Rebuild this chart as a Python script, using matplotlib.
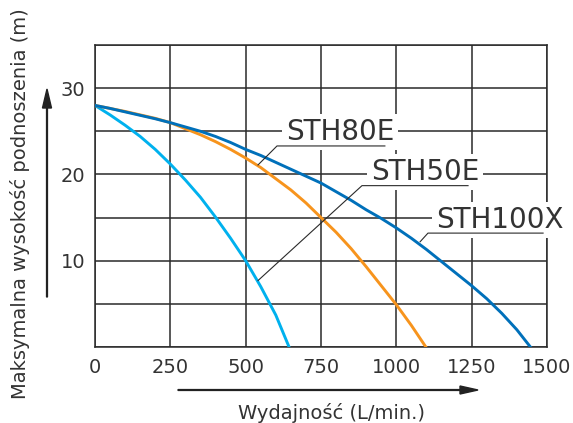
import numpy as np
import matplotlib
matplotlib.use("Agg")
import matplotlib.pyplot as plt

# wydajnosc (L/min) i wysokosc podnoszenia (m)
sth50e_q = [0, 50, 100, 150, 200, 250, 300, 350, 400, 450, 500, 550, 600, 644]
sth50e_h = [28.0, 26.9, 25.7, 24.4, 22.9, 21.2, 19.35, 17.35, 15.05, 12.6, 10.0, 7.0,
            3.7, 0.0]

sth80e_q = [0, 50, 100, 150, 200, 250, 300, 350, 400, 450, 500, 550, 600, 650, 700,
            750, 800, 850, 900, 950, 1000, 1050, 1098]
sth80e_h = [28.0, 27.65, 27.3, 26.9, 26.5, 26.0, 25.3, 24.6, 23.8, 22.9, 21.9, 20.8,
            19.5, 18.2, 16.7, 15.0, 13.3, 11.4, 9.3, 7.1, 4.9, 2.5, 0.0]

sth100x_q = [0, 50, 100, 150, 200, 250, 300, 350, 400, 450, 500, 550, 600, 650, 700,
             750, 800, 850, 900, 950, 1000, 1050, 1100, 1150, 1200, 1250, 1300, 1350,
             1400, 1445]
sth100x_h = [28.0, 27.65, 27.25, 26.85, 26.45, 26.0, 25.5, 25.0, 24.4, 23.7, 22.9, 22.2,
             21.4, 20.6, 19.8, 19.0, 18.0, 17.0, 15.9, 14.9, 13.8, 12.6, 11.3, 9.9,
             8.5, 7.1, 5.6, 3.9, 2.0, 0.0]

x_ticks = [0, 250, 500, 750, 1000, 1250, 1500]
y_ticks = [0, 5, 10, 15, 20, 25, 30, 35]
y_labels = ["", "", "10", "", "20", "", "30", ""]

# etykiety: tekst, srodek tekstu, punkt na krzywej, zalamanie, koniec podkreslenia
labels = [
    ("STH80E", (813, 24.9), (541, 21.1), (604, 23.3), (962, 23.3)),
    ("STH50E", (1095, 20.3), (541, 7.7), (886, 18.7), (1238, 18.7)),
    ("STH100X", (1344, 14.7), (1079, 12.2), (1105, 13.2), (1487, 13.2)),
]

txt = "#333333"
plt.rcParams["font.family"] = ["DejaVu Sans"]

fig = plt.figure(figsize=(5.73, 4.23), dpi=100)
ax = fig.add_axes([95 / 573, 1 - 347 / 423, 452 / 573, 302 / 423])

ax.plot(sth50e_q, sth50e_h, color="#00B1EE", lw=2.1, zorder=4, solid_joinstyle="round")
ax.plot(sth80e_q, sth80e_h, color="#F7941D", lw=2.1, zorder=4, solid_joinstyle="round")
ax.plot(sth100x_q, sth100x_h, color="#0070BA", lw=2.1, zorder=4, solid_joinstyle="round")

ax.set_xlim(0, 1500)
ax.set_ylim(0, 35)
ax.set_xticks(x_ticks)
ax.set_yticks(y_ticks)
ax.set_yticklabels(y_labels)
ax.tick_params(length=0, labelsize=14, labelcolor=txt)
ax.tick_params(axis="x", pad=8)
ax.tick_params(axis="y", pad=7)
ax.grid(True, color="#2a2a2a", lw=1.1, zorder=1)
ax.set_axisbelow(True)
for s in ax.spines.values():
    s.set_color("#2a2a2a")
    s.set_linewidth(1.1)
    s.set_zorder(1)

for name, pos, p0, p1, p2 in labels:
    ax.text(pos[0], pos[1], name, fontsize=20, color=txt, ha="center", va="center",
            zorder=5, clip_on=False,
            bbox=dict(facecolor="white", edgecolor="none", pad=3))
    ax.plot([p0[0], p1[0], p2[0]], [p0[1], p1[1], p2[1]], color="#2a2a2a",
            lw=0.8, zorder=6, clip_on=False)

# strzalki osi
fig.patches.append(matplotlib.patches.FancyArrow(
    47 / 573, 1 - 297 / 423, 0, (297 - 89) / 423, width=0.0015,
    head_width=9 / 573, head_length=19 / 423, length_includes_head=True,
    color="#222222", transform=fig.transFigure))
fig.patches.append(matplotlib.patches.FancyArrow(
    178 / 573, 1 - 390 / 423, (478 - 178) / 573, 0, width=0.002,
    head_width=8 / 423, head_length=18 / 573, length_includes_head=True,
    color="#222222", transform=fig.transFigure))

fig.text(332 / 573, 1 - 413 / 423, "Wydajność (L/min.)", fontsize=14, color=txt,
         ha="center", va="center")
fig.text(20 / 573, 1 - 204 / 423, "Maksymalna wysokość podnoszenia (m)", fontsize=14,
         color=txt, ha="center", va="center", rotation=90)

fig.savefig("out.png", dpi=100)
